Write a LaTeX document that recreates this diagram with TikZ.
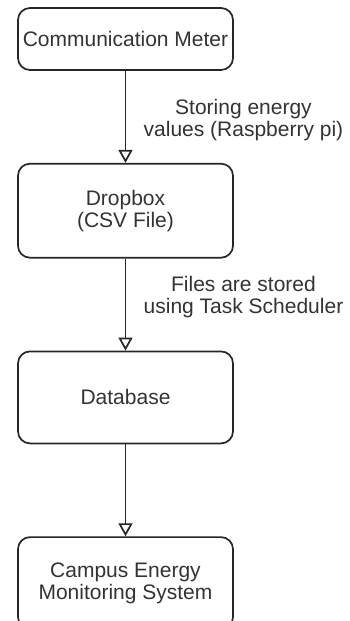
\documentclass[tikz,border=0pt]{standalone}
\usepackage{fontspec}
\setmainfont{Liberation Sans}
\usetikzlibrary{arrows.meta,positioning}
\begin{document}
\begin{tikzpicture}[x=1pt,y=1pt]
\tikzstyle{block}=[rectangle, rounded corners=12pt, minimum width=215pt, line width=1.7pt, draw=black!85, text=black!80, align=center, font=\fontsize{21}{22}\selectfont, node distance=92pt]
\tikzstyle{connect}=[-{Triangle[open, length=13pt, width=14pt]}, line width=1.7pt, draw=black!85]
\tikzstyle{note}=[text=black!80, align=center, font=\fontsize{21}{22}\selectfont, anchor=west, xshift=14pt]
  \useasboundingbox (0,0) rectangle (349,-621);
  \node[block, minimum height=62pt] (meter) at (125.5,-39) {Communication Meter};
  \node[block, minimum height=94pt] (dropbox) [below=of meter] {Dropbox\\(CSV File)};
  \node[block, minimum height=92pt] (database) [below=of dropbox] {Database};
  \node[block, minimum height=92pt] (cems) [below=of database] {Campus Energy\\Monitoring System};
  \path (meter) edge [connect] node[note, yshift=-3pt] {Storing energy\\values (Raspberry pi)} (dropbox)
        (dropbox) edge [connect] node[note, yshift=7pt] {Files are stored\\using Task Scheduler} (database)
        (database) edge [connect] (cems);
\end{tikzpicture}
\end{document}
